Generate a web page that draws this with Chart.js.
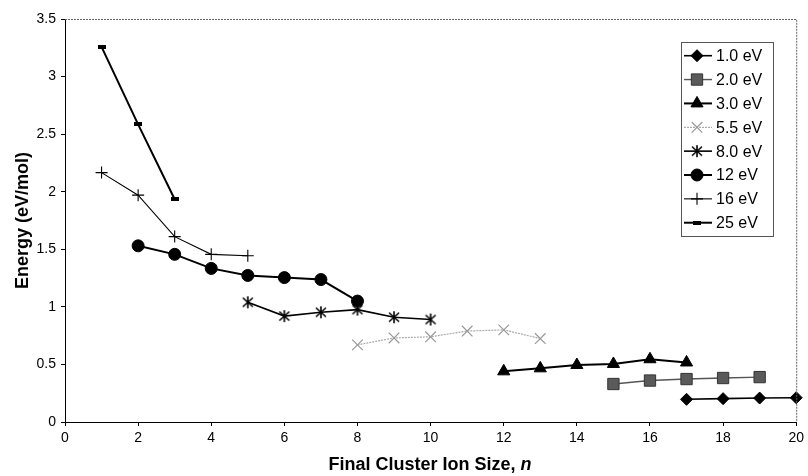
<!DOCTYPE html>
<html>
<head>
<meta charset="utf-8">
<script src="https://cdn.jsdelivr.net/npm/chart.js@4.4.1/dist/chart.umd.min.js"></script>
<style>
  html, body { margin: 0; padding: 0; background: #fff; }
  #wrap { width: 808px; height: 476px; }
</style>
</head>
<body>
<div id="wrap"><canvas id="energyChart" width="808" height="476"></canvas></div>
<script>
// series names, cluster sizes (n) and energies (eV/mol)
const seriesNames = ['1.0 eV', '2.0 eV', '3.0 eV', '5.5 eV', '8.0 eV', '12 eV', '16 eV', '25 eV'];

const n1_0 = [17, 18, 19, 20];
const e1_0 = [0.197, 0.203, 0.208, 0.211];

const n2_0 = [15, 16, 17, 18, 19];
const e2_0 = [0.33, 0.36, 0.373, 0.382, 0.39];

const n3_0 = [12, 13, 14, 15, 16, 17];
const e3_0 = [0.44, 0.466, 0.495, 0.504, 0.545, 0.517];

const n5_5 = [8, 9, 10, 11, 12, 13];
const e5_5 = [0.67, 0.73, 0.74, 0.79, 0.80, 0.725];

const n8_0 = [5, 6, 7, 8, 9, 10];
const e8_0 = [1.04, 0.92, 0.953, 0.976, 0.91, 0.89];

const n12 = [2, 3, 4, 5, 6, 7, 8];
const e12 = [1.53, 1.456, 1.334, 1.273, 1.254, 1.237, 1.05];

const n16 = [1, 2, 3, 4, 5];
const e16 = [2.166, 1.97, 1.61, 1.456, 1.444];

const n25 = [1, 2, 3];
const e25 = [3.258, 2.585, 1.935];

const xTicks = [0, 2, 4, 6, 8, 10, 12, 14, 16, 18, 20];
const yTicks = [0, 0.5, 1, 1.5, 2, 2.5, 3, 3.5];

const FONT = "'Liberation Sans', Arial, Helvetica, sans-serif";

function pts(xs, ys) {
    return xs.map((x, i) => ({ x: x, y: ys[i] }));
}

// small custom markers
function dashMarker() {
    const c = document.createElement('canvas');
    c.width = 8; c.height = 4;
    const g = c.getContext('2d');
    g.fillStyle = '#000';
    g.fillRect(0, 0, 8, 4);
    return c;
}
function asteriskMarker() {
    const c = document.createElement('canvas');
    c.width = 14; c.height = 14;
    const g = c.getContext('2d');
    g.strokeStyle = '#000';
    g.lineWidth = 1.6;
    g.beginPath();
    g.moveTo(7, 1); g.lineTo(7, 13);
    g.moveTo(2, 2.5); g.lineTo(12, 11.5);
    g.moveTo(12, 2.5); g.lineTo(2, 11.5);
    g.stroke();
    return c;
}

const styles = [
    { style: 'rectRot', r: 6, fill: '#000', stroke: '#000', line: '#000', lw: 1.6, bw: 1 },
    { style: 'rect', r: 8, fill: '#5a5a5a', stroke: '#333', line: '#555', lw: 1.4, bw: 1 },
    { style: 'triangle', r: 7, fill: '#000', stroke: '#000', line: '#000', lw: 2, bw: 1 },
    { style: 'crossRot', r: 7.5, fill: '#999', stroke: '#999', line: '#aaa', lw: 1.2, bw: 1.2, dash: [2, 1] },
    { style: asteriskMarker(), r: 7, fill: '#000', stroke: '#000', line: '#000', lw: 1.6, bw: 1 },
    { style: 'circle', r: 6, fill: '#000', stroke: '#000', line: '#000', lw: 2, bw: 1 },
    { style: 'cross', r: 6, fill: '#000', stroke: '#000', line: '#000', lw: 1.1, bw: 1.1 },
    { style: dashMarker(), r: 4, fill: '#000', stroke: '#000', line: '#000', lw: 2, bw: 1 }
];

const seriesData = [
    pts(n1_0, e1_0), pts(n2_0, e2_0), pts(n3_0, e3_0), pts(n5_5, e5_5),
    pts(n8_0, e8_0), pts(n12, e12), pts(n16, e16), pts(n25, e25)
];

const datasets = seriesNames.map((name, i) => {
    const s = styles[i];
    return {
        label: name,
        data: seriesData[i],
        showLine: true,
        borderColor: s.line,
        borderWidth: s.lw,
        borderDash: s.dash || [],
        pointStyle: s.style,
        pointRadius: s.r,
        pointHoverRadius: s.r,
        pointBackgroundColor: s.fill,
        pointBorderColor: s.stroke,
        pointBorderWidth: s.bw,
        clip: false
    };
});

// frame, legend box and x title
const extras = {
    id: 'extras',
    afterDraw(chart) {
        const ctx = chart.ctx;
        const a = chart.chartArea;
        ctx.save();

        // dotted top / right frame
        ctx.strokeStyle = '#666';
        ctx.lineWidth = 1;
        ctx.setLineDash([2, 1]);
        ctx.beginPath();
        ctx.moveTo(a.left, a.top + 0.5);
        ctx.lineTo(a.right + 0.5, a.top + 0.5);
        ctx.lineTo(a.right + 0.5, a.bottom);
        ctx.stroke();
        ctx.setLineDash([]);

        // legend
        const bx = 681, by = 42, bw = 92, bh = 194;
        ctx.fillStyle = '#fff';
        ctx.fillRect(bx, by, bw, bh);
        ctx.strokeStyle = '#555';
        ctx.strokeRect(bx + 0.5, by + 0.5, bw, bh);
        ctx.font = '16px ' + FONT;
        ctx.textBaseline = 'middle';
        ctx.textAlign = 'left';
        seriesNames.forEach((name, i) => {
            const s = styles[i];
            const y = 55.7 + i * 23.86;
            ctx.strokeStyle = s.line;
            ctx.lineWidth = s.lw;
            ctx.setLineDash(s.dash || []);
            ctx.beginPath();
            ctx.moveTo(684, y);
            ctx.lineTo(712, y);
            ctx.stroke();
            ctx.setLineDash([]);
            ctx.fillStyle = s.fill;
            ctx.strokeStyle = s.stroke;
            ctx.lineWidth = s.bw;
            Chart.helpers.drawPoint(ctx, {
                pointStyle: s.style, radius: s.r, rotation: 0, borderWidth: s.bw
            }, 697, y);
            ctx.fillStyle = '#000';
            ctx.fillText(name, 716, y + 1);
        });

        // x axis title with italic n
        const t1 = 'Final Cluster Ion Size, ';
        const t2 = 'n';
        ctx.font = 'bold 18px ' + FONT;
        const w1 = ctx.measureText(t1).width;
        ctx.font = 'italic bold 18px ' + FONT;
        const w2 = ctx.measureText(t2).width;
        const x0 = 430 - (w1 + w2) / 2;
        ctx.fillStyle = '#000';
        ctx.textBaseline = 'middle';
        ctx.font = 'bold 18px ' + FONT;
        ctx.fillText(t1, x0, 465);
        ctx.font = 'italic bold 18px ' + FONT;
        ctx.fillText(t2, x0 + w1, 465);
        ctx.restore();
    }
};

new Chart(document.getElementById('energyChart'), {
    type: 'scatter',
    data: { datasets: datasets },
    options: {
        responsive: false,
        animation: false,
        events: [],
        layout: { padding: { top: 19, right: 8, left: 0, bottom: 0 } },
        plugins: {
            legend: { display: false },
            tooltip: { enabled: false }
        },
        scales: {
            x: {
                type: 'linear',
                min: 0,
                max: 20,
                afterBuildTicks: s => { s.ticks = xTicks.map(v => ({ value: v })); },
                afterFit: s => { s.height = 54; },
                grid: { display: true, drawOnChartArea: false, drawTicks: true, tickLength: 4, color: '#000' },
                border: { color: '#000', width: 1 },
                ticks: { color: '#000', font: { family: FONT, size: 14 }, padding: 4, maxRotation: 0,
                         callback: v => String(v) }
            },
            y: {
                type: 'linear',
                min: 0,
                max: 3.5,
                afterBuildTicks: s => { s.ticks = yTicks.map(v => ({ value: v })); },
                afterFit: s => { s.width = 65; },
                grid: { display: true, drawOnChartArea: false, drawTicks: true, tickLength: 4, color: '#000' },
                border: { color: '#000', width: 1 },
                ticks: { color: '#000', font: { family: FONT, size: 14 }, padding: 5,
                         callback: v => String(v) },
                title: {
                    display: true,
                    text: 'Energy (eV/mol)',
                    color: '#000',
                    font: { family: FONT, size: 18, weight: 'bold' },
                    padding: { top: 12, bottom: 0 }
                }
            }
        }
    },
    plugins: [extras]
});
</script>
</body>
</html>
